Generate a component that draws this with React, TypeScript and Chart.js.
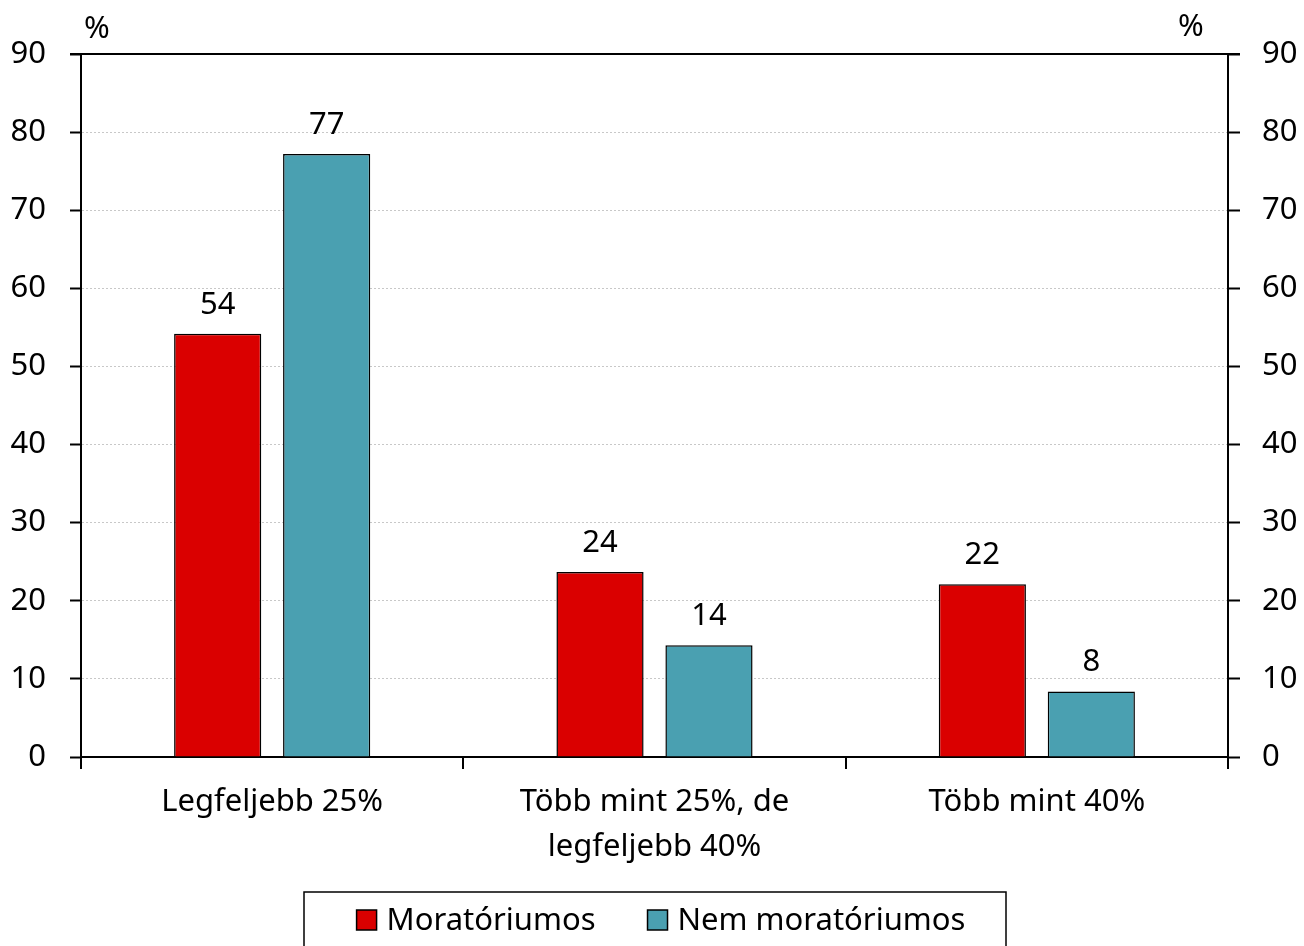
import React, { useEffect, useRef } from 'react';
import { Chart, registerables } from 'chart.js';

Chart.register(...registerables);

const categories: (string | string[])[] = [
  'Legfeljebb 25%',
  ['Több mint 25%, de', 'legfeljebb 40%'],
  'Több mint 40%',
];
const moratoriumos = [54.2, 23.7, 22.1];
const nemMoratoriumos = [77.2, 14.3, 8.4];
const seriesNames = ['Moratóriumos', 'Nem moratóriumos'];
const seriesColors = ['#DA0000', '#4AA0B1'];
const yMin = 0;
const yMax = 90;
const yStep = 10;
const unitLabel = '%';

const FONT = '"Noto Sans", "DejaVu Sans", sans-serif';
const FONT_SIZE = 31;

const extrasPlugin = {
  id: 'extras',
  afterDraw(chart: any) {
    const ctx = chart.ctx as CanvasRenderingContext2D;
    const area = chart.chartArea;
    ctx.save();
    // top frame line
    ctx.strokeStyle = '#000';
    ctx.lineWidth = 2;
    ctx.beginPath();
    ctx.moveTo(area.left - 11, area.top);
    ctx.lineTo(area.right + 12, area.top);
    ctx.stroke();

    // unit labels
    ctx.fillStyle = '#000';
    ctx.font = `${FONT_SIZE}px ${FONT}`;
    ctx.textAlign = 'center';
    ctx.textBaseline = 'alphabetic';
    ctx.fillText(unitLabel, area.left + 16, area.top - 16);
    ctx.fillText(unitLabel, area.right - 37, area.top - 18);

    // value labels
    chart.data.datasets.forEach((ds: any, di: number) => {
      const meta = chart.getDatasetMeta(di);
      meta.data.forEach((bar: any, i: number) => {
        const v = ds.data[i];
        ctx.fillText(String(Math.round(v)), bar.x, bar.y - 20);
      });
    });

    // legend
    const box = 20;
    const gapText = 10;
    const gapItems = 52;
    const widths = seriesNames.map((n) => ctx.measureText(n).width);
    const total = widths.reduce((a, w) => a + box + gapText + w, 0) + gapItems * (seriesNames.length - 1);
    let x = 661 - total / 2;
    const baseline = 930;
    ctx.textAlign = 'left';
    seriesNames.forEach((n, i) => {
      ctx.fillStyle = seriesColors[i];
      ctx.fillRect(x, baseline - box, box, box);
      ctx.strokeStyle = '#000';
      ctx.lineWidth = 1.5;
      ctx.strokeRect(x, baseline - box, box, box);
      ctx.fillStyle = '#000';
      ctx.fillText(n, x + box + gapText, baseline);
      x += box + gapText + widths[i] + gapItems;
    });
    ctx.strokeStyle = '#000';
    ctx.lineWidth = 1.5;
    ctx.strokeRect(304, 892, 702, 80);
    ctx.restore();
  },
};

export default function App() {
  const ref = useRef<HTMLCanvasElement | null>(null);
  useEffect(() => {
    if (!ref.current) return;
    const chart = new Chart(ref.current, {
      type: 'bar',
      data: {
        labels: categories,
        datasets: [
          {
            label: seriesNames[0],
            data: moratoriumos,
            backgroundColor: seriesColors[0],
            borderColor: '#000',
            borderWidth: 1.5,
            yAxisID: 'y',
          },
          {
            label: seriesNames[1],
            data: nemMoratoriumos,
            backgroundColor: seriesColors[1],
            borderColor: '#000',
            borderWidth: 1.5,
            yAxisID: 'y',
          },
        ],
      },
      options: {
        responsive: false,
        animation: false,
        events: [],
        datasets: {
          bar: { barPercentage: 0.8, categoryPercentage: 0.57 },
        },
        layout: { padding: { top: 54, left: 0, right: 0, bottom: 0 } },
        plugins: {
          legend: { display: false },
          tooltip: { enabled: false },
        },
        scales: {
          x: {
            type: 'category',
            offset: true,
            afterFit: (s: any) => {
              s.height = 189;
            },
            grid: {
              offset: true,
              drawOnChartArea: false,
              drawTicks: true,
              tickLength: 12,
              tickColor: '#000',
              tickWidth: 2,
              lineWidth: 2,
              color: '#000',
            },
            border: { display: true, color: '#000', width: 2 },
            ticks: {
              color: '#000',
              padding: 11,
              maxRotation: 0,
              autoSkip: false,
              font: { family: FONT, size: FONT_SIZE, lineHeight: 1.45 },
            },
          },
          y: {
            position: 'left',
            min: yMin,
            max: yMax,
            afterFit: (s: any) => {
              s.width = 81;
            },
            grid: {
              color: '#C8C8C8',
              lineWidth: 1,
              drawTicks: true,
              tickLength: 11,
              tickColor: '#000',
              tickWidth: 2,
            },
            border: { display: true, color: '#000', width: 2, dash: [2, 2] },
            ticks: {
              stepSize: yStep,
              color: '#000',
              padding: 24,
              font: { family: FONT, size: FONT_SIZE },
            },
          },
          y2: {
            position: 'right',
            min: yMin,
            max: yMax,
            afterFit: (s: any) => {
              s.width = 76;
            },
            grid: {
              drawOnChartArea: false,
              drawTicks: true,
              tickLength: 12,
              tickColor: '#000',
              tickWidth: 2,
              color: '#000',
            },
            border: { display: true, color: '#000', width: 2 },
            ticks: {
              stepSize: yStep,
              color: '#000',
              padding: 22,
              font: { family: FONT, size: FONT_SIZE },
            },
          },
        },
      },
      plugins: [extrasPlugin],
    });
    return () => chart.destroy();
  }, []);

  return (
    <div style={{ position: 'absolute', left: 0, top: 0, width: 1304, height: 946, background: '#fff', overflow: 'hidden' }}>
      <canvas ref={ref} width={1304} height={946} style={{ display: 'block' }} />
    </div>
  );
}
